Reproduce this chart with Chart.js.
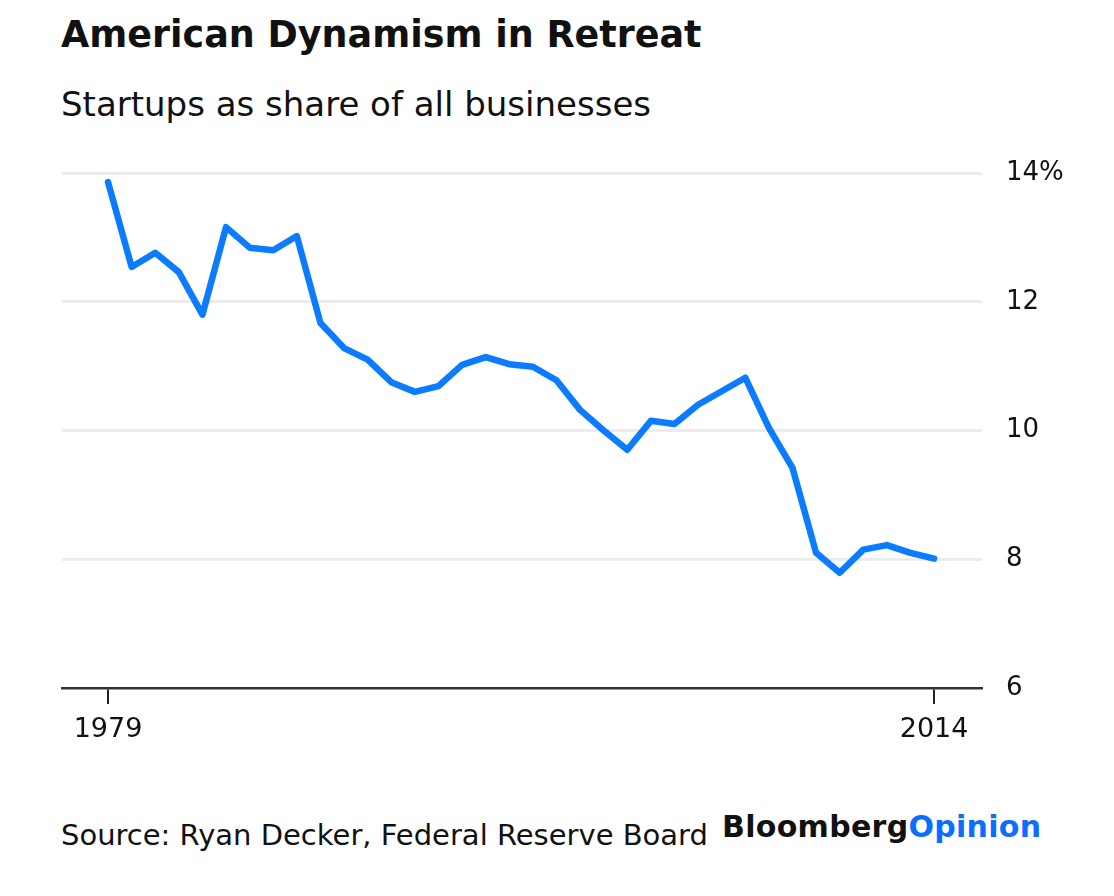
<!doctype html>
<html>
  <head>
    <title>American Dynamism in Retreat</title>
    <script src="https://cdn.jsdelivr.net/npm/chart.js@4.4.1/dist/chart.umd.min.js"></script>
    <style>
    body { margin: 0; background: #fff; font-family: "DejaVu Sans", sans-serif; color: #111; }
    #wrap { position: relative; width: 1114px; height: 896px; }
    #wrap div.t { position: absolute; line-height: 1; white-space: nowrap; }
    .title { left: 61px; top: 17px; font-size: 36.5px; font-weight: 700; }
    .sub { left: 61px; top: 87px; font-size: 34px; }
    .source { left: 61px; top: 821px; font-size: 29px; }
    .logo { left: 722px; top: 812px; font-size: 30px; font-weight: 700; letter-spacing: 0.3px; }
    .logo span { color: #0a6fff; }
    #box { position: absolute; left: 0; top: 140px; width: 1114px; height: 620px; }
    </style>
  </head>

  <body>
    <div id="wrap">
      <div class="t title">American Dynamism in Retreat</div>
      <div class="t sub">Startups as share of all businesses</div>
      <div id="box"><canvas id="canvas"></canvas></div>
      <div class="t source">Source: Ryan Decker, Federal Reserve Board</div>
      <div class="t logo">Bloomberg<span>Opinion</span></div>
    </div>

    <script>
      // data
      const years = [1979, 1980, 1981, 1982, 1983, 1984, 1985, 1986, 1987, 1988, 1989, 1990,
        1991, 1992, 1993, 1994, 1995, 1996, 1997, 1998, 1999, 2000, 2001, 2002, 2003, 2004,
        2005, 2006, 2007, 2008, 2009, 2010, 2011, 2012, 2013, 2014];
      const startupShare = [13.86, 12.54, 12.76, 12.46, 11.80, 13.16, 12.84, 12.80, 13.02, 11.67,
        11.28, 11.10, 10.75, 10.60, 10.69, 11.02, 11.14, 11.03, 10.99, 10.78, 10.32, 10.00,
        9.70, 10.15, 10.10, 10.40, 10.61, 10.82, 10.04, 9.42, 8.10, 7.79, 8.15, 8.22, 8.10, 8.01];
      const xTicks = [1979, 2014];
      const yTicks = [6, 8, 10, 12, 14];

      const points = years.map((y, i) => ({ x: y, y: startupShare[i] }));

      // keep the scales from adding their own label padding to the layout
      function noPad(scale) {
        scale.paddingTop = 0;
        scale.paddingBottom = 0;
        scale.paddingLeft = 0;
        scale.paddingRight = 0;
      }

      const config = {
        type: 'line',
        data: {
          datasets: [{
            data: points,
            borderColor: '#0b7bff',
            borderWidth: 6.5,
            pointRadius: 0,
            tension: 0,
            borderJoinStyle: 'round',
            borderCapStyle: 'round',
            fill: false
          }]
        },
        options: {
          responsive: true,
          maintainAspectRatio: false,
          animation: false,
          layout: { padding: { left: 62, top: 33, right: 0, bottom: 0 } },
          plugins: { legend: { display: false }, tooltip: { enabled: false } },
          scales: {
            x: {
              type: 'linear',
              min: 1977.05,
              max: 2016.03,
              afterBuildTicks: function(scale) {
                scale.ticks = xTicks.map(v => ({ value: v }));
              },
              afterFit: function(scale) { scale.height = 72; noPad(scale); },
              grid: { drawOnChartArea: false, drawTicks: true, tickLength: 16, color: '#222', lineWidth: 2 },
              border: { display: true, color: '#333', width: 2.5 },
              ticks: {
                padding: 10,
                color: '#111',
                font: { family: 'DejaVu Sans', size: 27 },
                maxRotation: 0,
                callback: v => String(v)
              }
            },
            y: {
              position: 'right',
              min: 6,
              max: 14,
              afterBuildTicks: function(scale) {
                scale.ticks = yTicks.map(v => ({ value: v }));
              },
              afterFit: function(scale) { scale.width = 132; noPad(scale); },
              border: { display: false },
              grid: {
                drawTicks: false,
                lineWidth: 3,
                color: ctx => (ctx.tick && ctx.tick.value === 6) ? 'rgba(0,0,0,0)' : '#ececec'
              },
              ticks: {
                padding: 24,
                color: '#111',
                font: { family: 'DejaVu Sans', size: 26 },
                callback: v => v === 14 ? '14%' : String(v)
              }
            }
          }
        }
      };

      window.onload = function() {
        let ctx = document.getElementById('canvas').getContext('2d');
        window.myLine = new Chart(ctx, config);
      };
    </script>
  </body>
</html>
